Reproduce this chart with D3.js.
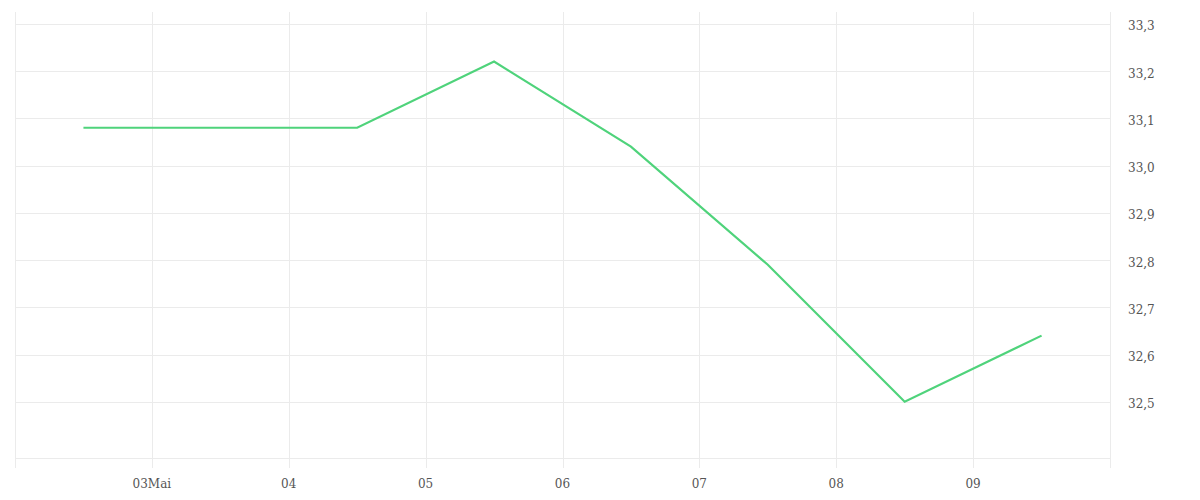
<!DOCTYPE html>
<html>
<head>
<meta charset="utf-8">
<script src="https://cdn.jsdelivr.net/npm/d3@7"></script>
<style>
  html, body { margin: 0; padding: 0; background: #fff; }
  svg text { font-family: "DejaVu Serif", serif; font-size: 12px; fill: #555; }
</style>
</head>
<body>
<svg id="chart" width="1200" height="500"></svg>
<script>
// Data
const dates = ["2024-05-02T12:00", "2024-05-03T12:00", "2024-05-04T12:00", "2024-05-05T12:00",
               "2024-05-06T12:00", "2024-05-07T12:00", "2024-05-08T12:00", "2024-05-09T12:00"];
const values = [33.08, 33.08, 33.08, 33.22, 33.04, 32.79, 32.50, 32.64];
const tickDays = ["2024-05-03", "2024-05-04", "2024-05-05", "2024-05-06", "2024-05-07", "2024-05-08", "2024-05-09"];
const tickLabels = ["03Mai", "04", "05", "06", "07", "08", "09"];
const gridDays = ["2024-05-02", "2024-05-03", "2024-05-04", "2024-05-05", "2024-05-06",
                  "2024-05-07", "2024-05-08", "2024-05-09", "2024-05-10"];
const yTicks = [32.5, 32.6, 32.7, 32.8, 32.9, 33.0, 33.1, 33.2, 33.3];
const yTickLabels = ["32,5", "32,6", "32,7", "32,8", "32,9", "33,0", "33,1", "33,2", "33,3"];
const xDomain = ["2024-05-02", "2024-05-10"];
const yDomain = [32.381, 33.325];

(function () {
const parse = d3.isoParse;
const svg = d3.select("#chart");
const mLeft = 15, mRight = 1110, mTop = 12, mBottom = 458;

const x = d3.scaleTime().domain(xDomain.map(parse)).range([mLeft, mRight]);
const y = d3.scaleLinear().domain(yDomain).range([mBottom, mTop]);

const grid = "#ebebeb";

// horizontal gridlines
svg.append("g").selectAll("line").data(yTicks).join("line")
  .attr("x1", mLeft).attr("x2", mRight)
  .attr("y1", d => Math.round(y(d)) + 0.5).attr("y2", d => Math.round(y(d)) + 0.5)
  .attr("stroke", grid).attr("stroke-width", 1);

// bottom line
svg.append("line")
  .attr("x1", mLeft).attr("x2", mRight)
  .attr("y1", mBottom + 0.5).attr("y2", mBottom + 0.5)
  .attr("stroke", grid);

// vertical gridlines (extend as ticks below the axis)
svg.append("g").selectAll("line").data(gridDays).join("line")
  .attr("x1", d => Math.round(x(parse(d))) + 0.5).attr("x2", d => Math.round(x(parse(d))) + 0.5)
  .attr("y1", mTop).attr("y2", mBottom + 10)
  .attr("stroke", grid).attr("stroke-width", 1);

// x labels
svg.append("g").selectAll("text").data(tickDays).join("text")
  .attr("x", d => x(parse(d)))
  .attr("y", 488)
  .attr("text-anchor", "middle")
  .text((d, i) => tickLabels[i]);

// y labels (right)
svg.append("g").selectAll("text").data(yTicks).join("text")
  .attr("x", 1128)
  .attr("y", d => y(d) + 6.5)
  .attr("text-anchor", "start")
  .text((d, i) => yTickLabels[i]);

// line
const line = d3.line()
  .x((d, i) => x(parse(dates[i])))
  .y(d => y(d));

svg.append("path")
  .datum(values)
  .attr("fill", "none")
  .attr("stroke", "#4fd37b")
  .attr("stroke-width", 2.2)
  .attr("d", line);
})();
</script>
</body>
</html>
